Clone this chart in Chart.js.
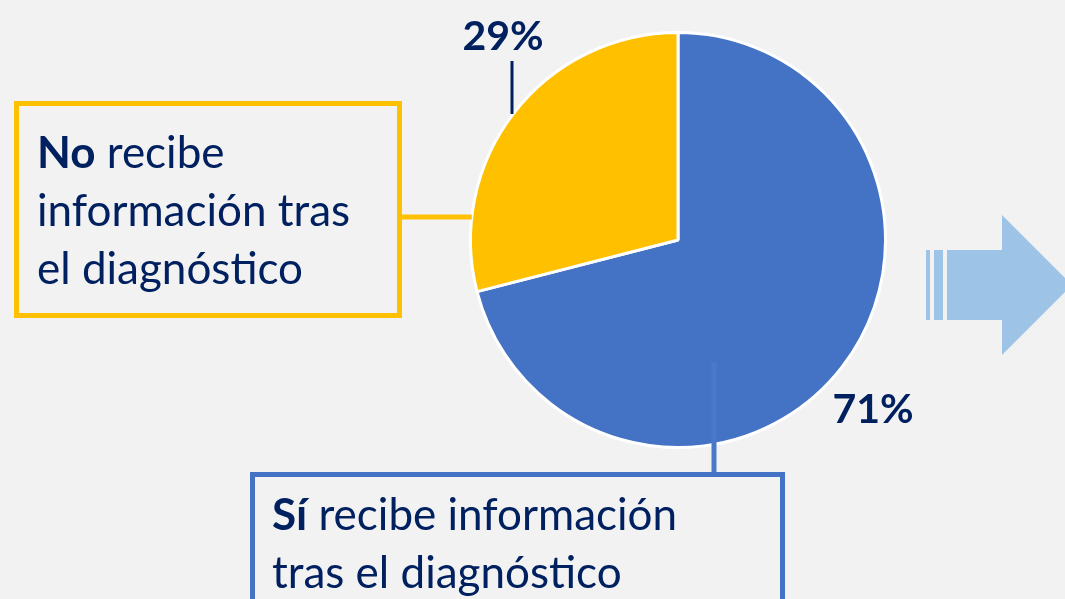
<!DOCTYPE html>
<html>
<head>
<meta charset="utf-8">
<script src="https://cdn.jsdelivr.net/npm/chart.js@4"></script>
<style>
  html, body { margin: 0; padding: 0; background: #f2f2f2; }
  #wrap { width: 1065px; height: 599px; position: relative; }
</style>
</head>
<body>
<div id="wrap"><canvas id="myChart" width="1065" height="599"></canvas></div>
<script>
/////////////////////////////
// Data
/////////////////////////////
const categories = ['Sí recibe información tras el diagnóstico', 'No recibe información tras el diagnóstico'];
const values = [71, 29];
const sliceColors = ['#4472c4', '#ffc000'];

// box text lines: [bold part, rest] per line
const noLines = [['No', ' recibe'], ['', 'información tras'], ['', 'el diagnóstico']];
const siLines = [['Sí', ' recibe información'], ['', 'tras el diagnóstico']];

const navy = '#002060';
const FONT = 'Lato, "Open Sans", sans-serif';

/////////////////////////////
// Functions | annotations
/////////////////////////////
function drawLines(ctx, lines, x, y, step, size) {
  lines.forEach((ln, i) => {
    let cx = x;
    const by = y + i * step;
    if (ln[0]) {
      ctx.font = 'bold ' + size + 'px ' + FONT;
      ctx.fillText(ln[0], cx, by);
      cx += ctx.measureText(ln[0]).width;
    }
    ctx.font = size + 'px ' + FONT;
    ctx.fillText(ln[1], cx, by);
  });
}

const annotations = {
  id: 'annotations',
  afterDraw(chart) {
    const ctx = chart.ctx;
    const arc = chart.getDatasetMeta(0).data[0];
    const cx = arc.x, cy = arc.y, r = arc.outerRadius;
    ctx.save();

    // yellow box + connector
    ctx.strokeStyle = '#ffc000';
    ctx.lineWidth = 5;
    ctx.strokeRect(16.5, 103.5, 383, 212);
    ctx.beginPath();
    ctx.moveTo(399, 217);
    ctx.lineTo(cx - Math.sqrt(r * r - (217 - cy) * (217 - cy)), 217);
    ctx.stroke();

    // blue connector + box
    ctx.strokeStyle = '#4a78cb';
    ctx.beginPath();
    ctx.moveTo(714, 363);
    ctx.lineTo(714, 474);
    ctx.stroke();
    ctx.strokeStyle = '#4472c4';
    ctx.strokeRect(252.5, 474.5, 530, 160);

    // leader for 29%
    ctx.strokeStyle = navy;
    ctx.lineWidth = 3;
    ctx.beginPath();
    ctx.moveTo(512, 61);
    ctx.lineTo(512, 114);
    ctx.stroke();

    // text
    ctx.fillStyle = navy;
    ctx.textBaseline = 'alphabetic';
    ctx.textAlign = 'left';
    drawLines(ctx, noLines, 37, 168, 58, 44);
    drawLines(ctx, siLines, 272, 530, 58, 44);

    ctx.font = 'bold 41px ' + FONT;
    ctx.textAlign = 'center';
    ctx.fillText(values[1] + '%', 503, 50);
    ctx.fillText(values[0] + '%', 873, 423);

    // arrow
    ctx.fillStyle = '#9dc3e6';
    ctx.fillRect(926, 250, 4, 70);
    ctx.fillRect(934, 250, 9, 70);
    ctx.beginPath();
    ctx.moveTo(947, 250);
    ctx.lineTo(1002, 250);
    ctx.lineTo(1002, 215);
    ctx.lineTo(1072, 285);
    ctx.lineTo(1002, 355);
    ctx.lineTo(1002, 320);
    ctx.lineTo(947, 320);
    ctx.closePath();
    ctx.fill();

    ctx.restore();
  }
};

/////////////////////////////
// Chart
/////////////////////////////
const ctx = document.getElementById('myChart').getContext('2d');
const myChart = new Chart(ctx, {
  type: 'pie',
  data: {
    labels: categories,
    datasets: [{
      data: values,
      backgroundColor: sliceColors,
      borderColor: '#ffffff',
      borderWidth: 3
    }]
  },
  options: {
    responsive: false,
    animation: false,
    layout: { padding: { left: 469, right: 178, top: 31, bottom: 150 } },
    plugins: {
      legend: { display: false },
      tooltip: { enabled: false }
    }
  },
  plugins: [annotations]
});
</script>
</body>
</html>
